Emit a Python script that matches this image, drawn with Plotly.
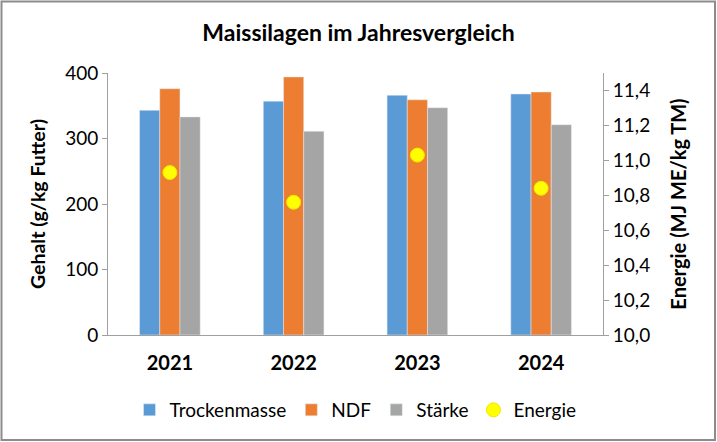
import plotly.graph_objects as go

years = ["2021", "2022", "2023", "2024"]
trockenmasse = [343, 357, 366, 368]
ndf = [376, 394, 359, 371]
staerke = [333, 311, 347, 321]
energie = [10.93, 10.76, 11.03, 10.84]

FONT = "Lato, Carlito, Calibri, sans-serif"
W, H = 717, 442
L, R, T, B = 108, 114, 73, 107
pw, ph = W - L - R, H - T - B

fig = go.Figure()
fig.add_bar(x=years, y=trockenmasse, name="Trockenmasse", marker_color="#5B9BD5")
fig.add_bar(x=years, y=ndf, name="NDF", marker_color="#ED7D31")
fig.add_bar(x=years, y=staerke, name="Stärke", marker_color="#A5A5A5")
fig.add_scatter(x=years, y=energie, name="Energie", mode="markers", yaxis="y2",
                marker=dict(color="#FFFF00", size=14, line=dict(color="#F2E600", width=1)))

def px_x(p):
    return (p - L) / pw

def px_y(p):
    return (H - B - p) / ph

fig.add_shape(type="rect", xref="paper", yref="paper",
              x0=px_x(1.5), x1=px_x(715), y0=px_y(440), y1=px_y(1.5),
              line=dict(color="#8C8C8C", width=2), fillcolor="rgba(0,0,0,0)", layer="below")

fig.update_layout(
    width=W, height=H,
    margin=dict(l=L, r=R, t=T, b=B),
    paper_bgcolor="white", plot_bgcolor="white",
    separators=",.",
    barmode="group", bargap=0.51, bargroupgap=0,
    font=dict(family=FONT, color="#000000"),
    title=dict(text="<b>Maissilagen im Jahresvergleich</b>", x=0.5, xanchor="center",
               y=1 - 33 / H, yanchor="middle", font=dict(size=23, family=FONT)),
    xaxis=dict(showline=True, linecolor="#A0A0A0", linewidth=1, ticks="",
               tickfont=dict(size=20, family=FONT), ticklabelstandoff=10,
               tickprefix="<b>", ticksuffix="</b>"),
    yaxis=dict(range=[0, 400], tickvals=[0, 100, 200, 300, 400], showgrid=False,
               showline=True, linecolor="#A0A0A0", ticks="outside", ticklen=5,
               tickcolor="#A0A0A0", tickfont=dict(size=19, family=FONT, color="#000"),
               zeroline=False,
               title=dict(text="<b>Gehalt (g/kg Futter)</b>", font=dict(size=19.5, family=FONT),
                          standoff=14)),
    yaxis2=dict(range=[10, 11.5], overlaying="y", side="right",
                tickvals=[10.0, 10.2, 10.4, 10.6, 10.8, 11.0, 11.2, 11.4],
                tickformat=".1f", showgrid=False, showline=True, linecolor="#A0A0A0",
                ticks="outside", ticklen=5, tickcolor="#A0A0A0",
                tickfont=dict(size=19, family=FONT, color="#000"), zeroline=False,
                title=dict(text="<b>Energie (MJ ME/kg TM)</b>", font=dict(size=20, family=FONT),
                           standoff=22)),
    legend=dict(orientation="h", x=0.5, xanchor="center", y=px_y(410), yanchor="middle",
                font=dict(size=19, family=FONT), itemwidth=30, traceorder="normal"),
)

fig.write_html("out.html", config={"displayModeBar": False},
               post_script="document.body.style.margin='0';")
